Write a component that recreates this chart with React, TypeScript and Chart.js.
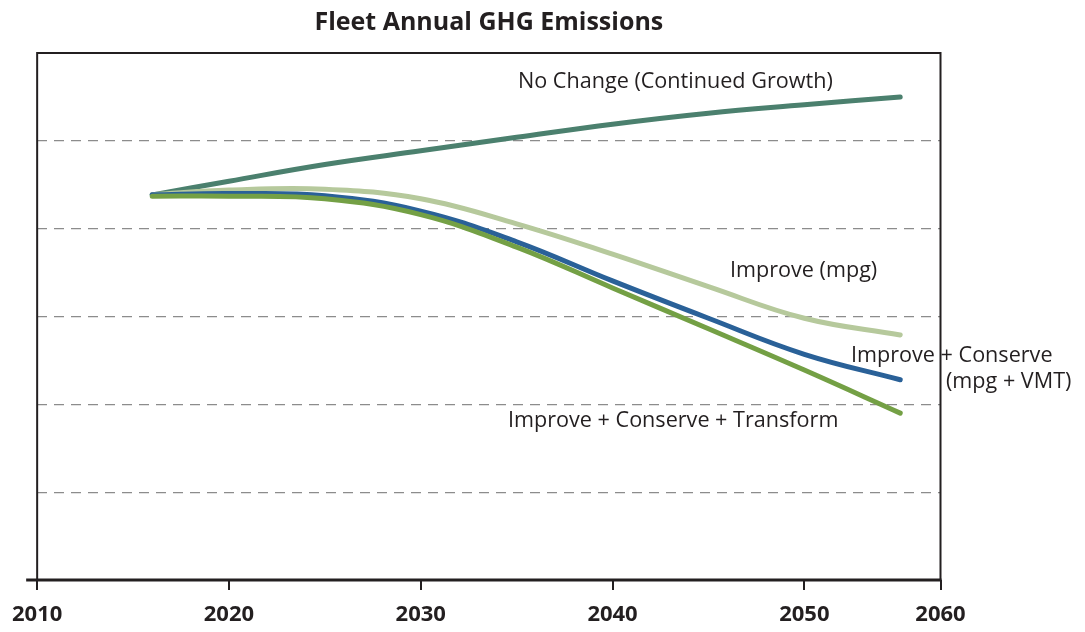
import React, { useEffect, useRef } from "react";
import { Chart, registerables } from "chart.js";

Chart.register(...registerables);

const YEARS = [2016, 2020, 2025, 2030, 2035, 2040, 2045, 2050, 2055];
const NO_CHANGE = [4.385, 4.54, 4.73, 4.886, 5.04, 5.19, 5.315, 5.41, 5.5];
const IMPROVE = [4.385, 4.44, 4.45, 4.34, 4.055, 3.71, 3.34, 2.98, 2.79];
const CONSERVE = [4.385, 4.4, 4.375, 4.2, 3.85, 3.405, 2.98, 2.57, 2.28];
const TRANSFORM = [4.37, 4.37, 4.34, 4.16, 3.79, 3.325, 2.86, 2.39, 1.9];
const TICK_VALUES = [2010, 2020, 2030, 2040, 2050, 2057.1];
const TICK_LABELS = ["2010", "2020", "2030", "2040", "2050", "2060"];

const TITLE = "Fleet Annual GHG Emissions";
const TEXT_COLOR = "#231f20";
const FONT = "'Open Sans', 'Noto Sans', sans-serif";

const LABELS = [
  { text: "No Change (Continued Growth)", x: 518, y: 88 },
  { text: "Improve (mpg)", x: 730, y: 277 },
  { text: "Improve + Conserve", x: 851, y: 362 },
  { text: "(mpg + VMT)", x: 946, y: 388 },
  { text: "Improve + Conserve + Transform", x: 508, y: 427 },
];

const toPoints = (vals: number[]) => YEARS.map((x, i) => ({ x, y: vals[i] }));

const decorPlugin = {
  id: "decor",
  afterDraw(chart: any) {
    const { ctx, chartArea } = chart;
    const { left, right, top, bottom } = chartArea;
    ctx.save();
    ctx.strokeStyle = TEXT_COLOR;
    ctx.lineWidth = 2;
    ctx.beginPath();
    ctx.moveTo(left, bottom);
    ctx.lineTo(left, top);
    ctx.lineTo(right, top);
    ctx.lineTo(right, bottom);
    ctx.stroke();
    ctx.lineWidth = 3;
    ctx.beginPath();
    ctx.moveTo(left - 11, bottom);
    ctx.lineTo(right + 1, bottom);
    ctx.stroke();
    ctx.fillStyle = TEXT_COLOR;
    ctx.font = `bold 25px ${FONT}`;
    ctx.textAlign = "center";
    ctx.textBaseline = "alphabetic";
    ctx.fillText(TITLE, (left + right) / 2, 30);
    ctx.font = `21.6px ${FONT}`;
    ctx.textAlign = "left";
    LABELS.forEach((l) => ctx.fillText(l.text, l.x, l.y));
    ctx.restore();
  },
};

export default function App() {
  const ref = useRef<HTMLCanvasElement>(null);
  useEffect(() => {
    if (!ref.current) return;
    const common = {
      borderWidth: 5,
      pointRadius: 0,
      borderCapStyle: "round" as const,
      borderJoinStyle: "round" as const,
      tension: 0.4,
      fill: false,
    };
    const chart = new Chart(ref.current, {
      type: "line",
      data: {
        datasets: [
          { ...common, label: "No Change", data: toPoints(NO_CHANGE), borderColor: "#4b806e", order: 3 },
          { ...common, label: "Improve", data: toPoints(IMPROVE), borderColor: "#b6c99c", order: 2 },
          { ...common, label: "Improve + Conserve", data: toPoints(CONSERVE), borderColor: "#2a6198", order: 1 },
          { ...common, label: "Improve + Conserve + Transform", data: toPoints(TRANSFORM), borderColor: "#74a045", order: 0 },
        ],
      },
      options: {
        animation: false,
        responsive: false,
        layout: { padding: { left: 36, right: 144.5, top: 53, bottom: 0 } },
        plugins: { legend: { display: false }, tooltip: { enabled: false }, title: { display: false } },
        scales: {
          x: {
            type: "linear",
            min: 2010,
            max: 2057.1,
            afterBuildTicks: (s: any) => {
              s.ticks = TICK_VALUES.map((v) => ({ value: v }));
            },
            afterFit: (s: any) => {
              s.height = 52;
            },
            ticks: {
              autoSkip: false,
              maxRotation: 0,
              padding: 12,
              color: TEXT_COLOR,
              font: { family: FONT, weight: "bold", size: 22 },
              callback: (_v: any, i: number) => TICK_LABELS[i],
            },
            grid: { drawOnChartArea: false, drawTicks: true, tickLength: 10, color: TEXT_COLOR, lineWidth: 2 },
            border: { display: false },
          },
          y: {
            min: 0,
            max: 6,
            afterFit: (s: any) => {
              s.width = 0;
            },
            ticks: { display: false, stepSize: 1 },
            grid: {
              drawTicks: false,
              lineWidth: 1.3,
              color: (c: any) => (c.tick && (c.tick.value === 0 || c.tick.value === 6) ? "rgba(0,0,0,0)" : "#8c8c8c"),
            },
            border: { display: false, dash: [10, 7] },
          },
        },
      },
      plugins: [decorPlugin],
    });
    return () => chart.destroy();
  }, []);
  return (
    <div style={{ position: "absolute", left: 0, top: 0, width: 1085, height: 632, background: "#fff" }}>
      <canvas ref={ref} width={1085} height={632} style={{ width: 1085, height: 632 }} />
    </div>
  );
}
